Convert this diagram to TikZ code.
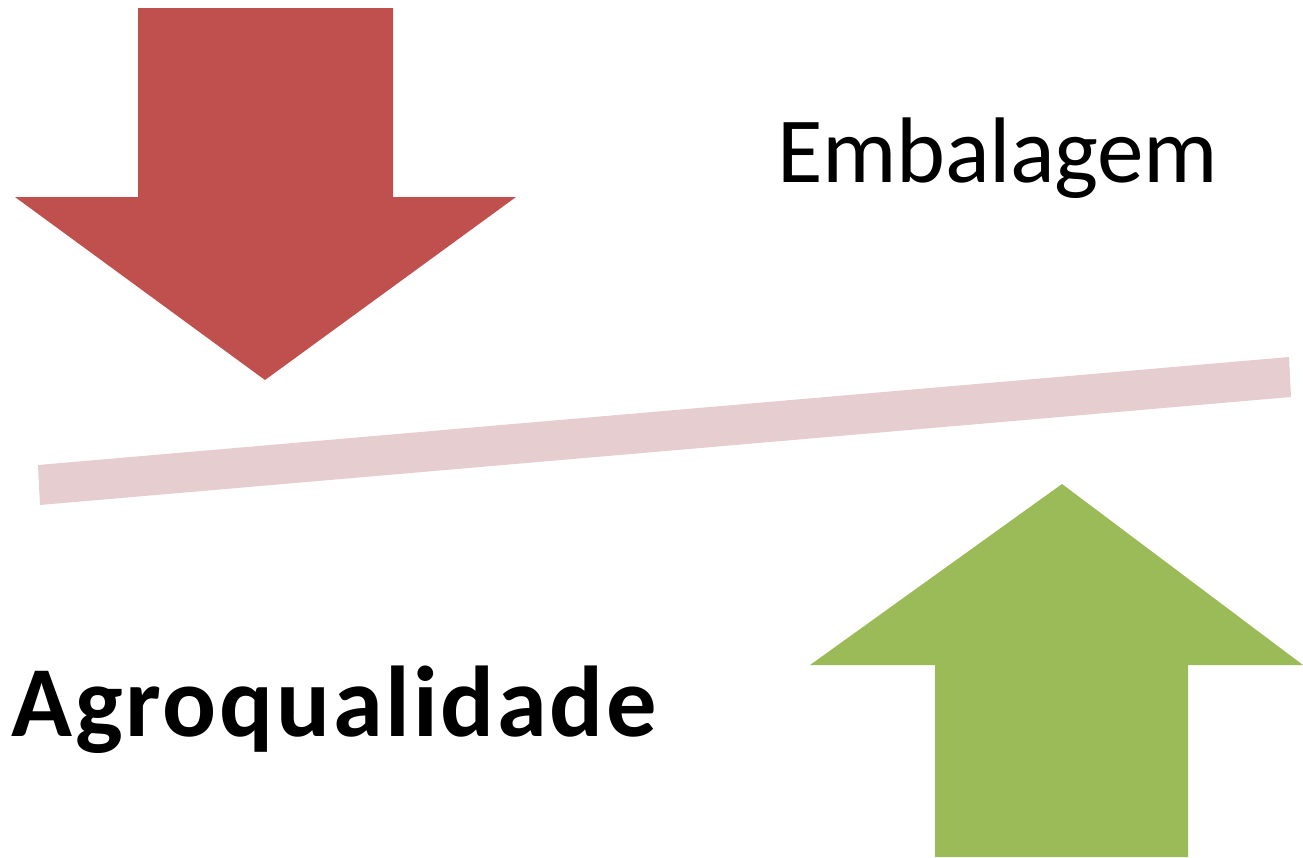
\documentclass[tikz,border=0pt]{standalone}
\usepackage{fontspec}
\setmainfont{Carlito}
\definecolor{arrowred}{HTML}{C0504D}
\definecolor{arrowgreen}{HTML}{9BBB59}
\definecolor{barpink}{HTML}{E6CDCF}

\begin{document}
\begin{tikzpicture}[x=0.01cm,y=-0.01cm,
    label/.style={inner sep=0pt,anchor=base west,font=\fontsize{26.5}{30}\selectfont}]

\useasboundingbox (0,0) rectangle (1303,857);

% down arrow
\fill[arrowred] (138,8) -- (393,8) -- (393,197) -- (516,197) -- (265,380) -- (15,197) -- (138,197) -- cycle;

% bar
\fill[barpink] (38,465) -- (1289,357) -- (1291,397) -- (40,505) -- cycle;

% up arrow
\fill[arrowgreen] (935,857) -- (935,665) -- (810,665) -- (1062,484) -- (1303,665) -- (1188,665) -- (1188,857) -- cycle;

\node[label] (embalagem) at (777,182) {\addfontfeature{LetterSpace=-0.5}Embalagem};
\node[label,font=\fontsize{28.6}{32}\selectfont\bfseries] (agroqualidade) at (11,736) {\addfontfeature{LetterSpace=2.7}Agroqualidade};

\end{tikzpicture}
\end{document}
